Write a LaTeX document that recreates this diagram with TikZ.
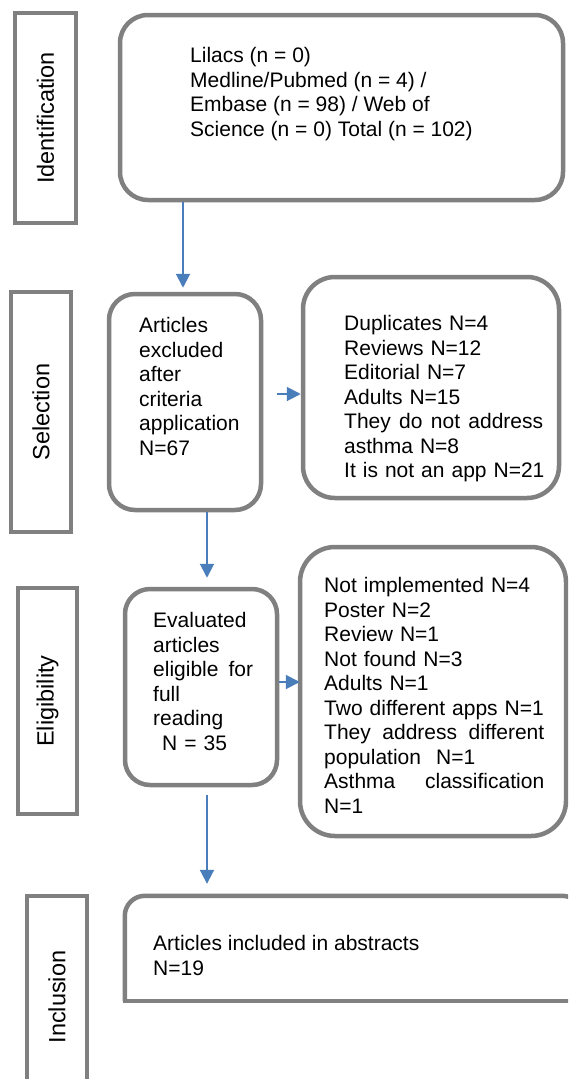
\documentclass[tikz,border=0pt]{standalone}
\usepackage{fontspec}
\setmainfont{Liberation Sans}
\usetikzlibrary{arrows.meta}
\definecolor{boxgray}{HTML}{808080}
\definecolor{arrblue}{HTML}{4A7EBB}
\tikzset{
  labbox/.style={draw=boxgray, line width=4pt, rectangle, inner sep=0pt, rotate=90, font=\fontsize{23.5}{28}\selectfont},
  rbox/.style={draw=boxgray, line width=4.5pt, rectangle, inner sep=0pt},
  txt/.style={anchor=north west, inner sep=0pt, align=left, font=\fontsize{21}{24.5}\selectfont},
  arr/.style={draw=arrblue, line width=2pt, -{Triangle[width=14pt,length=14pt]}},
  outline/.style={draw=boxgray, line width=4.5pt},
}
\begin{document}
\begin{tikzpicture}[x=1pt,y=-1pt]
\clip (0,0) rectangle (568,1079);
\fill[white] (0,0) rectangle (568,1079);

% stage labels
\node[labbox, minimum width=210pt, minimum height=61pt] (lab1) at (45.5,118) {Identification};
\node[labbox, minimum width=240pt, minimum height=60pt] (lab2) at (41,412) {Selection};
\node[labbox, minimum width=226pt, minimum height=59pt] (lab3) at (47.5,701) {Eligibility};
\node[labbox, minimum width=202pt, minimum height=60pt] (lab4) at (57,997) {Inclusion};

% boxes
\node[rbox, rounded corners=28pt, minimum width=443pt, minimum height=185pt] (box1) at (341.5,107.5) {};
\node[rbox, rounded corners=26pt, minimum width=152pt, minimum height=216pt] (box2) at (185,402) {};
\node[rbox, rounded corners=32pt, minimum width=256pt, minimum height=221pt] (box3) at (431,387.5) {};
\node[rbox, rounded corners=25pt, minimum width=152pt, minimum height=196pt] (box4) at (201,687) {};
\node[rbox, rounded corners=35pt, minimum width=266pt, minimum height=289pt] (box5) at (433,691.5) {};
\node[inner sep=0pt, minimum width=457pt, minimum height=105pt] (box6) at (353.5,948.5) {};
\draw[outline, rounded corners=20pt] (box6.south west) |- (box6.north east) -- (box6.south east);
\draw[outline, line cap=rect] (box6.south west) -- (box6.south east);

% texts
\node[txt] (t1) at (190,47.5) {Lilacs (n = 0)\\Medline/Pubmed (n = 4) /\\Embase (n = 98) / Web of\\Science (n = 0) Total (n = 102)};
\node[txt] (t2) at (139,317.5) {Articles\\excluded\\after\\criteria\\application\\N=67};
\node[txt, text width=199pt] (t3) at (344,315.5) {Duplicates N=4\\Reviews N=12\\Editorial N=7\\Adults N=15\\They\hfill do\hfill not\hfill address\\asthma N=8\\\mbox{It is not an app N=21}};
\node[txt, text width=100pt] (t4) at (153,612.5) {Evaluated\\articles\\eligible\hfill for\\full\\reading\\\hspace*{9pt}N = 35};
\node[txt, text width=220pt] (t5) at (324,577.5) {Not implemented N=4\\Poster N=2\\Review N=1\\Not found N=3\\Adults N=1\\\mbox{Two different apps N=1}\\They\hfill address\hfill different\\population\hspace{15pt}N=1\\Asthma\hfill classification\\N=1};
\node[txt] (t6) at (153,935.5) {Articles included in abstracts\\N=19};

% connectors
\coordinate (c1) at (183,0);
\coordinate (c2) at (207,0);
\coordinate (s1) at (0,394);
\coordinate (s2) at (0,682);
\draw[arr, shorten >=4pt] (box1.south -| c1) -- (box2.north -| c1);
\draw[arr, shorten >=9pt] (box2.south -| c2) -- (box4.north -| c2);
\draw[arr, shorten <=8pt, shorten >=12pt] (box4.south -| c2) -- (box6.north -| c2);
\draw[arr, shorten <=14pt] (box2.east |- s1) -- (box3.west |- s1);
\draw[arr, shorten >=-2pt] (box4.east |- s2) -- (box5.west |- s2);
\end{tikzpicture}
\end{document}
